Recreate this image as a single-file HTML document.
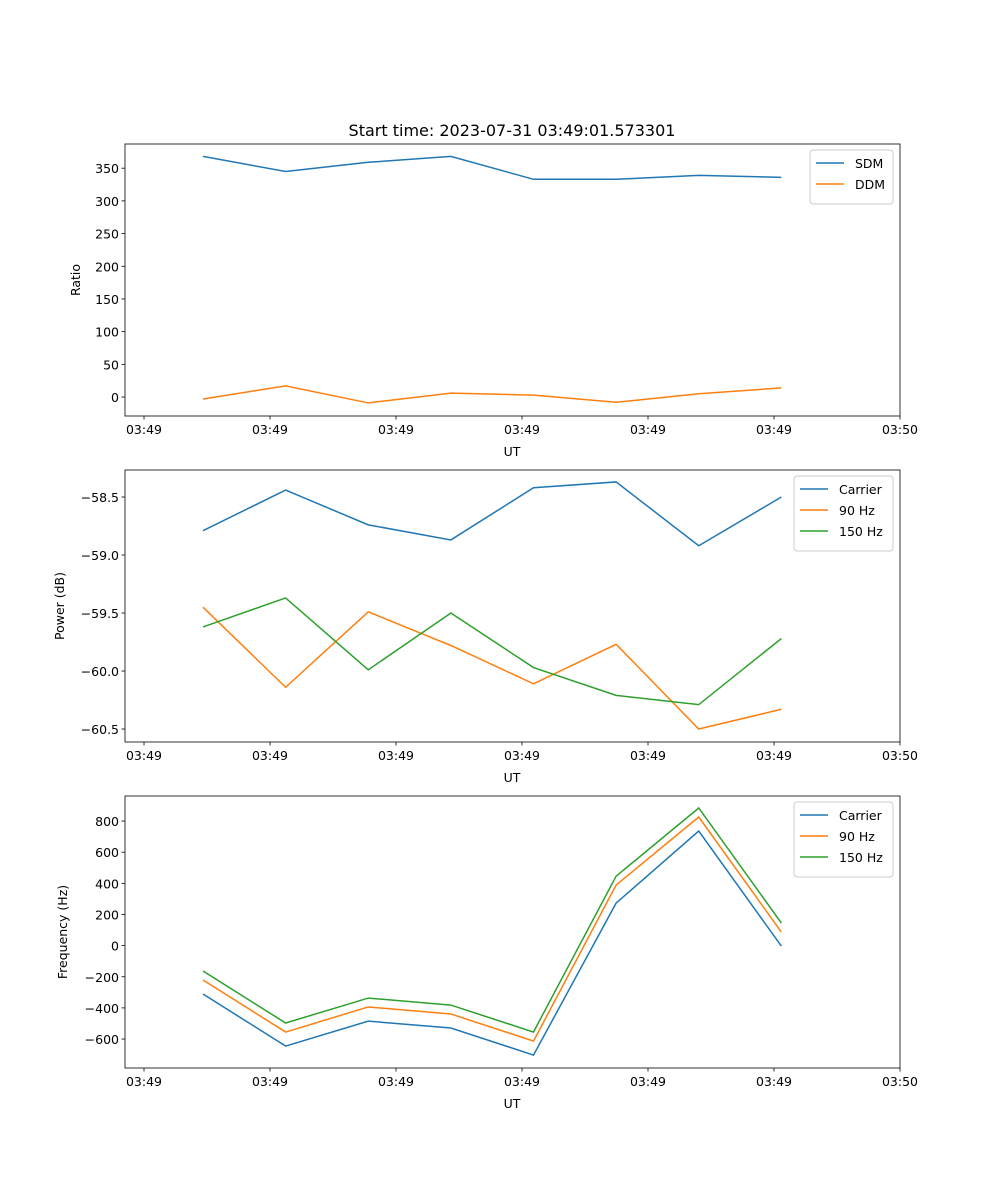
<!DOCTYPE html>
<html><head><meta charset="utf-8"><style>
body{margin:0;background:#fff}
svg{display:block;font-family:"DejaVu Sans","Liberation Sans",sans-serif}
</style></head><body>
<svg id="fig" width="1000" height="1200" viewBox="0 0 1000 1200">
<text x="512" y="136" text-anchor="middle" font-size="16">Start time: 2023-07-31 03:49:01.573301</text>
</svg>
<script>
const xIndex = [0,1,2,3,4,5,6,7];
const xTickVals = [-0.714,0.811,2.336,3.861,5.386,6.911,8.436];
const xTickLabels = ["03:49","03:49","03:49","03:49","03:49","03:49","03:50"];
const sdm = [368,345,359,368,333,333,339,336];
const ddm = [-3,17,-9,6,3,-8,5,14];
const powCarrier = [-58.79,-58.44,-58.74,-58.87,-58.42,-58.37,-58.92,-58.5];
const pow90 = [-59.45,-60.14,-59.49,-59.78,-60.11,-59.77,-60.5,-60.33];
const pow150 = [-59.62,-59.37,-59.99,-59.50,-59.97,-60.21,-60.29,-59.72];
const freqCarrier = [-311,-645,-485,-529,-703,273,736,-3];
const freq90 = [-221,-555,-394,-439,-613,389,826,87];
const freq150 = [-163,-497,-337,-382,-555,446,884,145];
const ratioTicks = [0,50,100,150,200,250,300,350];
const powTicks = [-60.5,-60.0,-59.5,-59.0,-58.5];
const freqTicks = [-600,-400,-200,0,200,400,600,800];

const NS="http://www.w3.org/2000/svg";
const svg=document.getElementById('fig');
const C=["#1f77b4","#ff7f0e","#2ca02c"];
function mk(tag,attrs,parent){const e=document.createElementNS(NS,tag);for(const k in attrs)e.setAttribute(k,attrs[k]);(parent||svg).appendChild(e);return e;}
const L=125,R=900,xmin=-0.944,xmax=8.436;
function xs(v){return L+(v-xmin)/(xmax-xmin)*(R-L);}

function panel(name,top,ymin,ymax,yticks,fmt,ylabel,series,names,legW){
  const bot=top+272;
  const ys=v=>bot-(v-ymin)/(ymax-ymin)*272;
  const g=mk('g',{});
  
  
  series.forEach((s,si)=>{
    const p=mk('polyline',{points:s.map((v,i)=>xs(xIndex[i])+','+ys(v)).join(' '),fill:'none',stroke:C[si],'stroke-width':1.5},g);
    
    
  });
  const fr=mk('rect',{x:L,y:top,width:R-L,height:272,fill:'none',stroke:'#000','stroke-width':0.8},g);
  
  
  xTickVals.forEach((v,i)=>{
    const x=xs(v);
    mk('line',{x1:x,x2:x,y1:bot,y2:bot+3.5,stroke:'#000','stroke-width':0.8},g);
    const t=mk('text',{x:x,y:bot+18,'text-anchor':'middle','font-size':12.5},g);
    t.textContent=xTickLabels[i];
    
    
  });
  const xl=mk('text',{x:512,y:bot+40,'text-anchor':'middle','font-size':12.5},g);
  xl.textContent='UT';
  
  
  yticks.forEach(v=>{
    const y=ys(v);
    mk('line',{x1:L-3.5,x2:L,y1:y,y2:y,stroke:'#000','stroke-width':0.8},g);
    const t=mk('text',{x:L-6,y:y+5,'text-anchor':'end','font-size':12.5},g);
    t.textContent=fmt(v);
    
    
  });
  const yl=mk('text',{x:0,y:0,'text-anchor':'middle','font-size':12.5,transform:`translate(${ylabel[1]},${top+136}) rotate(-90)`},g);
  yl.textContent=ylabel[0];
  
  
  const lx=893-legW,ly=top+6,lh=12+names.length*21;
  const lg=mk('g',{},g);
  
  
  mk('rect',{x:lx,y:ly,width:legW,height:lh,rx:3,fill:'#fff',stroke:'#ccc','stroke-width':1},lg);
  names.forEach((n,i)=>{
    const yy=ly+13+i*21;
    mk('line',{x1:lx+6,x2:lx+34,y1:yy,y2:yy,stroke:C[i],'stroke-width':1.5},lg);
    const t=mk('text',{x:lx+45,y:yy+5,'font-size':12.5},lg);
    t.textContent=n;
    
    
  });
}
panel('ratio',144,-29,387,ratioTicks,v=>String(v),['Ratio',80],[sdm,ddm],['SDM','DDM'],83);
panel('power',470,-60.612,-58.267,powTicks,v=>'\u2212'.repeat(v<0?1:0)+Math.abs(v).toFixed(1),['Power (dB)',64],[powCarrier,pow90,pow150],['Carrier','90 Hz','150 Hz'],99);
panel('frequency',796,-786,961,freqTicks,v=>(v<0?'\u2212':'')+Math.abs(v),['Frequency (Hz)',67],[freqCarrier,freq90,freq150],['Carrier','90 Hz','150 Hz'],99);
</script>
</body></html>
